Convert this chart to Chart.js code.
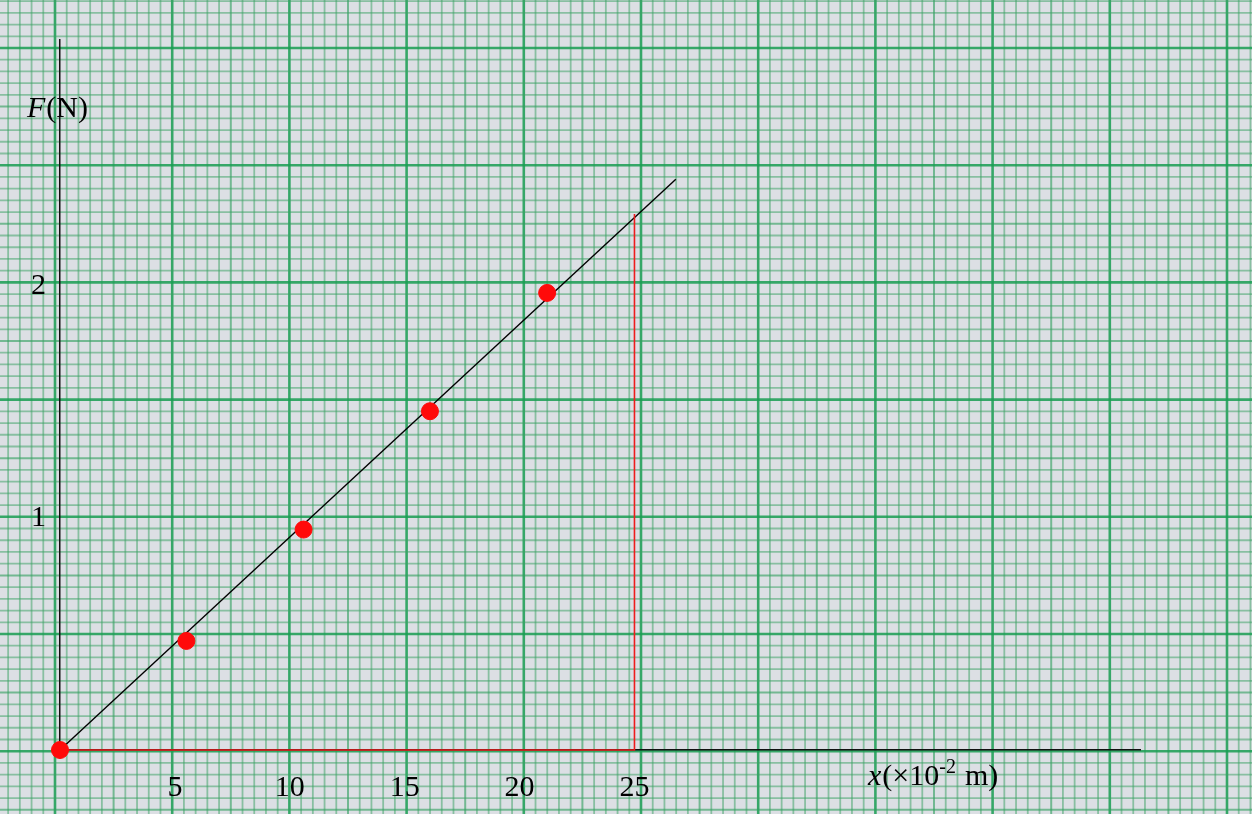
<!DOCTYPE html>
<html>
<head>
<meta charset="utf-8">
<script src="https://cdn.jsdelivr.net/npm/chart.js@4"></script>
<style>
  html, body { margin: 0; padding: 0; background: #dcdfe4; }
  canvas { display: block; }
</style>
</head>
<body>
<canvas id="springChart" width="1252" height="814"></canvas>
<script>
// Measured points: extension x (x10^-2 m) and force F (N)
const pointX = [0, 5.5, 10.6, 16.1, 21.2];
const pointF = [0, 0.47, 0.95, 1.46, 1.97];

// Best fit line through the origin
const fitX = [0, 26.8];
const fitF = [0, 2.46];

// Red construction lines used to read the slope at x = 25
const guideX = [0, 25, 25];
const guideF = [0, 0, 2.31];

// Tick labels
const xTicks = [5, 10, 15, 20, 25];
const yTicks = [1, 2];

function toPoints(xs, ys) {
    return xs.map((x, i) => ({ x: x, y: ys[i] }));
}

// Graph paper drawn behind everything
const graphPaper = {
    id: 'graphPaper',
    beforeDraw(chart) {
        const ctx = chart.ctx;
        const w = chart.width, h = chart.height;
        ctx.save();
        ctx.fillStyle = '#dcdfe4';
        ctx.fillRect(0, 0, w, h);
        const step = 11.72;
        const x0 = 55, y0 = 48;
        function lineStyle(k) {
            if (k === 0) { ctx.strokeStyle = 'rgba(25,158,82,0.85)'; ctx.lineWidth = 2.6; }
            else if (k === 5) { ctx.strokeStyle = 'rgba(50,160,95,0.62)'; ctx.lineWidth = 2; }
            else { ctx.strokeStyle = 'rgba(60,162,100,0.52)'; ctx.lineWidth = 1.8; }
        }
        // vertical lines
        for (let i = -10; i * step + x0 < w + step; i++) {
            const x = x0 + i * step;
            lineStyle(((i % 10) + 10) % 10);
            ctx.beginPath();
            ctx.moveTo(x, 0);
            ctx.lineTo(x, h);
            ctx.stroke();
        }
        // horizontal lines
        for (let j = -10; j * step + y0 < h + step; j++) {
            const y = y0 + j * step;
            lineStyle(((j % 10) + 10) % 10);
            ctx.beginPath();
            ctx.moveTo(0, y);
            ctx.lineTo(w, y);
            ctx.stroke();
        }
        ctx.restore();
    }
};

// Axis titles with italic symbols
const axisTitles = {
    id: 'axisTitles',
    afterDraw(chart) {
        const ctx = chart.ctx;
        ctx.save();
        ctx.fillStyle = '#000';
        ctx.textBaseline = 'alphabetic';
        ctx.textAlign = 'left';

        // F(N)
        let x = 27, y = 117;
        ctx.font = 'italic 30px "Liberation Serif", serif';
        ctx.fillText('F', x, y);
        x += ctx.measureText('F').width + 1;
        ctx.font = '30px "Liberation Serif", serif';
        ctx.fillText('(N)', x, y);

        // x(×10^-2 m)
        x = 868; y = 785;
        ctx.font = 'italic 30px "Liberation Serif", serif';
        ctx.fillText('x', x, y);
        x += ctx.measureText('x').width + 1;
        ctx.font = '30px "Liberation Serif", serif';
        ctx.fillText('(\u00d710', x, y);
        x += ctx.measureText('(\u00d710').width;
        ctx.font = '20px "Liberation Serif", serif';
        ctx.fillText('-2', x, y - 12);
        x += ctx.measureText('-2').width + 9;
        ctx.font = '30px "Liberation Serif", serif';
        ctx.fillText('m)', x, y);
        ctx.restore();
    }
};

const ctx = document.getElementById('springChart').getContext('2d');
const springChart = new Chart(ctx, {
    type: 'scatter',
    data: {
        datasets: [
            {
                label: 'Measurements',
                data: toPoints(pointX, pointF),
                backgroundColor: '#ff0a0a',
                borderColor: '#ff0a0a',
                pointRadius: 8.5,
                pointHoverRadius: 8.5,
                clip: false
            },
            {
                label: 'Guide',
                data: toPoints(guideX, guideF),
                showLine: true,
                borderColor: '#ee1c1c',
                borderWidth: 1.6,
                pointRadius: 0,
                fill: false,
                clip: false
            },
            {
                label: 'Fit',
                data: toPoints(fitX, fitF),
                showLine: true,
                borderColor: '#000',
                borderWidth: 1.4,
                pointRadius: 0,
                fill: false,
                clip: false
            }
        ]
    },
    options: {
        responsive: false,
        animation: false,
        layout: {
            padding: { top: 40, right: 112, bottom: 0, left: 0 }
        },
        plugins: {
            legend: { display: false },
            tooltip: { enabled: false }
        },
        scales: {
            x: {
                type: 'linear',
                min: 0,
                max: 47,
                grid: { display: false, drawTicks: false },
                border: { display: true, color: '#111', width: 1.5 },
                afterBuildTicks: function(scale) {
                    scale.ticks = xTicks.map(v => ({ value: v }));
                },
                afterFit: function(scale) {
                    scale.height = 64;
                },
                ticks: {
                    color: '#000',
                    padding: 20,
                    maxRotation: 0,
                    autoSkip: false,
                    font: { family: '"Liberation Serif", serif', size: 30 }
                }
            },
            y: {
                type: 'linear',
                min: 0,
                max: 3.06,
                grid: { display: false, drawTicks: false },
                border: { display: true, color: '#111', width: 1.5 },
                afterBuildTicks: function(scale) {
                    scale.ticks = yTicks.map(v => ({ value: v }));
                },
                afterFit: function(scale) {
                    scale.width = 60;
                },
                ticks: {
                    color: '#000',
                    padding: 14,
                    autoSkip: false,
                    font: { family: '"Liberation Serif", serif', size: 30 }
                }
            }
        }
    },
    plugins: [graphPaper, axisTitles]
});
</script>
</body>
</html>
